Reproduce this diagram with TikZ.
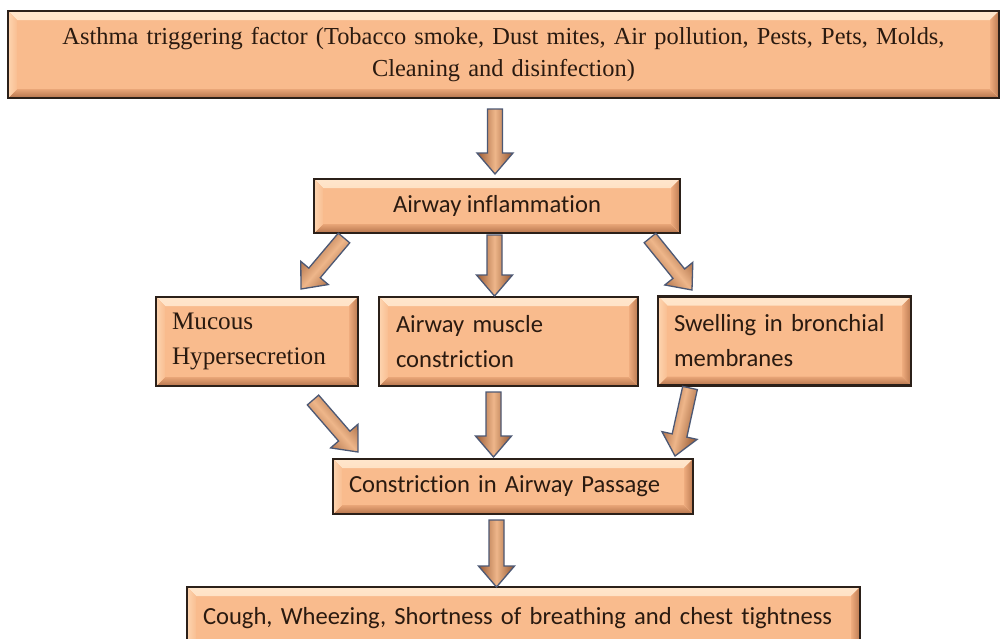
\documentclass[tikz,border=0pt]{standalone}
\usepackage{fontspec}
\setmainfont{Liberation Serif}
\newfontfamily\calib[Ligatures=NoCommon]{Carlito}
\usetikzlibrary{calc}
\definecolor{peach}{HTML}{F9BB8D}
\definecolor{boxline}{HTML}{2B2019}
\definecolor{txt}{HTML}{2A1A10}
\definecolor{bevTa}{HTML}{FFE6CC}
\definecolor{bevTb}{HTML}{FBC9A0}
\definecolor{bevBa}{HTML}{E9A678}
\definecolor{bevBb}{HTML}{B5744C}
\definecolor{bevLa}{HTML}{FDD5B0}
\definecolor{bevLb}{HTML}{F9BE92}
\definecolor{bevRa}{HTML}{EFAC7E}
\definecolor{bevRb}{HTML}{BB7A51}
\definecolor{arrL}{HTML}{9A5A34}
\definecolor{arrM}{HTML}{EEB68A}
\definecolor{arrR}{HTML}{93552F}
\definecolor{arrline}{HTML}{4C5874}
\def\bw{9pt}
\tikzset{
  bev/.style={path picture={
    \fill[top color=bevTa,bottom color=bevTb] (path picture bounding box.north west) -- (path picture bounding box.north east) -- ([shift={(-\bw,-\bw)}]path picture bounding box.north east) -- ([shift={(\bw,-\bw)}]path picture bounding box.north west) -- cycle;
    \fill[top color=bevBa,bottom color=bevBb] (path picture bounding box.south west) -- (path picture bounding box.south east) -- ([shift={(-\bw,\bw)}]path picture bounding box.south east) -- ([shift={(\bw,\bw)}]path picture bounding box.south west) -- cycle;
    \fill[left color=bevLa,right color=bevLb] (path picture bounding box.north west) -- (path picture bounding box.south west) -- ([shift={(\bw,\bw)}]path picture bounding box.south west) -- ([shift={(\bw,-\bw)}]path picture bounding box.north west) -- cycle;
    \fill[left color=bevRa,right color=bevRb] (path picture bounding box.north east) -- (path picture bounding box.south east) -- ([shift={(-\bw,\bw)}]path picture bounding box.south east) -- ([shift={(-\bw,-\bw)}]path picture bounding box.north east) -- cycle;
  }},
  box/.style={draw=boxline, line width=2.2pt, fill=peach, inner sep=0pt, text=txt, bev},
  serifbox/.style={box, font=\fontsize{24.4}{32}\selectfont},
  serifbig/.style={box, font=\fontsize{25.2}{35}\selectfont},
  sansbox/.style={box, font=\calib\fontsize{24.6}{35}\selectfont},
  arrowst/.style={draw=arrline, line width=1.3pt, line join=miter, left color=arrL, right color=arrR, middle color=arrM},
}
\newcommand\fatarrow[3][]{%
  \coordinate (fah) at ($(#3)!21pt!(#2)$);
  \path[arrowst,#1] ($(#2)!7.5pt!90:(#3)$) -- ($(fah)!7.5pt!90:(#3)$) -- ($(fah)!18pt!90:(#3)$) -- (#3) -- ($(fah)!18pt!-90:(#3)$) -- ($(fah)!7.5pt!-90:(#3)$) -- ($(#2)!7.5pt!-90:(#3)$) -- cycle;}
\begin{document}
\begin{tikzpicture}[x=1pt,y=-1pt]
\useasboundingbox (0,0) rectangle (1001,638);
\clip (0,0) rectangle (1001,638);
\fill[white] (0,0) rectangle (1001,638);

\node[serifbox, minimum width=991pt, minimum height=87pt, text width=975pt, align=center] (top) at (503.5,54.5)
  {Asthma triggering factor (Tobacco smoke, Dust mites, Air pollution, Pests, Pets, Molds,\\ Cleaning and disinfection)};
\node[sansbox, minimum width=366pt, minimum height=54pt, align=center] (infl) at (497,206) {Airway inflammation};
\node[serifbig, minimum width=202pt, minimum height=89pt, inner xsep=16pt, text width=170pt, align=left] (muc) at (257,341.5) {Mucous\\Hypersecretion};
\node[sansbox, minimum width=259pt, minimum height=89pt, inner xsep=17pt, text width=225pt, align=left] (mus) at (508.5,341.5) {Airway muscle\\constriction};
\node[sansbox, minimum width=253pt, minimum height=89pt, inner xsep=16pt, text width=221pt, align=left] (swe) at (784.5,341) {Swelling in bronchial\\membranes};
\node[sansbox, minimum width=360pt, minimum height=55pt, inner xsep=16pt, text width=328pt, align=left] (con) at (513,486.5) {Constriction in Airway Passage};
\node[sansbox, minimum width=673pt, minimum height=62pt, inner xsep=16pt, text width=641pt, align=left] (cou) at (523.5,618) {Cough, Wheezing, Shortness of breathing and chest tightness};

\coordinate (a1s) at (495,109);   \coordinate (a1e) at (495,174);
\coordinate (a2s) at (344,238);   \coordinate (a2e) at (301,289);
\coordinate (a3s) at (494.5,235); \coordinate (a3e) at (494.5,296);
\coordinate (a4s) at (650,238);   \coordinate (a4e) at (692,290);
\coordinate (a5s) at (313,400);   \coordinate (a5e) at (358,452);
\coordinate (a6s) at (493.5,392); \coordinate (a6e) at (493.5,457);
\coordinate (a7s) at (690,388);   \coordinate (a7e) at (675,456);
\coordinate (a8s) at (496.5,520); \coordinate (a8e) at (496.5,587);

\fatarrow{a1s}{a1e}
\fatarrow[shading angle=49.3]{a2s}{a2e}
\fatarrow{a3s}{a3e}
\fatarrow[shading angle=128.9]{a4s}{a4e}
\fatarrow[shading angle=130.9]{a5s}{a5e}
\fatarrow{a6s}{a6e}
\fatarrow[shading angle=77.6]{a7s}{a7e}
\fatarrow{a8s}{a8e}
\end{tikzpicture}
\end{document}
